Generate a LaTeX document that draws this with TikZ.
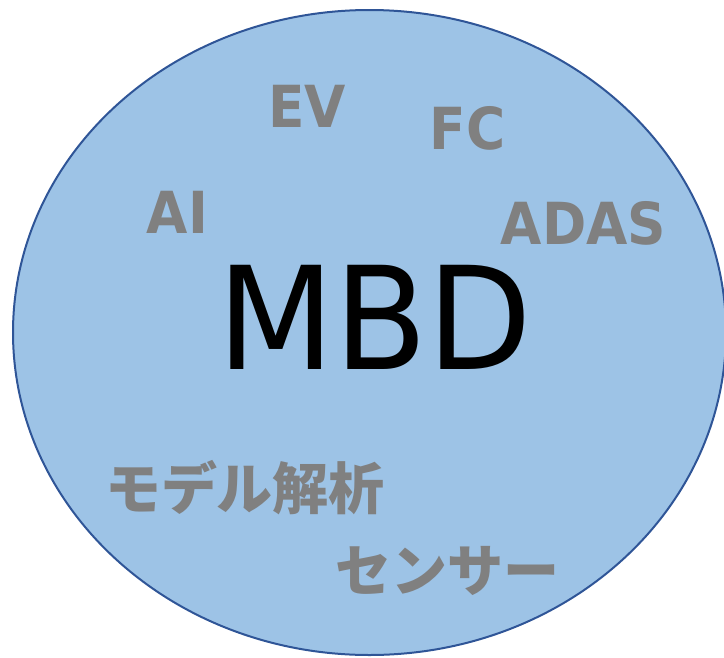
\documentclass[tikz,border=0pt]{standalone}
\usepackage{fontspec}
\newfontfamily\latinlbl[FakeStretch=0.92]{DejaVu Sans}
\newfontfamily\mbdfont[FakeStretch=0.95]{DejaVu Sans}
\newfontfamily\cjk{Noto Sans CJK JP}
\definecolor{fillblue}{HTML}{9DC3E6}
\definecolor{edgeblue}{HTML}{2F5597}
\definecolor{lblgray}{HTML}{808080}
\begin{document}
\begin{tikzpicture}[x=1pt,y=-1pt,
  tag/.style={text=lblgray,inner sep=0pt,anchor=base,font=\latinlbl\fontsize{58}{60}\selectfont\bfseries},
  jtag/.style={text=lblgray,inner sep=0pt,anchor=base,font=\cjk\fontsize{56}{60}\selectfont\bfseries},
  big/.style={text=black,inner sep=0pt,anchor=base,font=\mbdfont\fontsize{143}{150}\selectfont}]
\useasboundingbox (0,0) rectangle (724,657);
\clip (0,0) rectangle (724,657);
\draw[fill=fillblue,draw=edgeblue,line width=2pt] (369.5,332.5) ellipse [x radius=356.5pt, y radius=322.5pt];
\node[tag] (ev) at (307,127) {EV};
\node[tag] (fc) at (467.5,149) {FC};
\node[tag] (ai) at (177.5,233) {AI};
\node[tag] (adas) at (583.5,244) {ADAS};
\node[big] (mbd) at (375,369) {MBD};
\node[jtag] (model) at (245,509) {モデル解析};
\node[jtag] (sensor) at (447.5,591) {センサー};
\end{tikzpicture}
\end{document}
